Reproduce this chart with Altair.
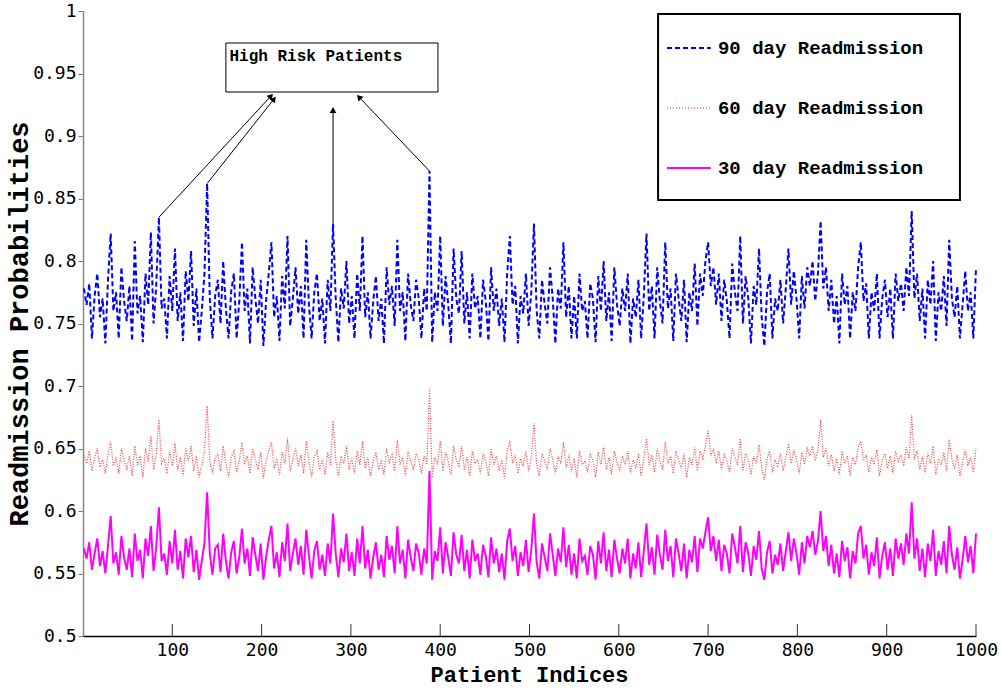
import altair as alt
import pandas as pd

# ---------------- data ----------------
idx = list(range(1, 1001, 3))  # patient indices sampled (334 per series)

# probabilities in thousandths (0.778 -> 778)
d90_milli = [
778,765,782,738,772,790,755,770,734,785,
822,760,775,738,795,768,752,780,736,816,
758,772,735,790,765,823,750,780,835,762,
770,738,788,760,810,752,775,736,792,768,
808,748,778,735,760,790,862,770,738,772,
785,750,800,762,738,776,790,738,768,815,
760,778,734,795,770,750,785,732,768,790,
815,755,772,736,788,762,820,748,770,795,
758,780,738,817,765,738,775,790,752,770,
734,785,760,830,770,735,778,762,800,750,
772,738,790,760,820,755,775,738,768,788,
752,770,734,795,765,780,748,817,760,775,
736,790,765,752,785,770,738,778,760,872,
735,775,760,820,748,788,765,734,810,770,
758,808,750,775,738,790,762,772,738,785,
768,736,795,760,778,748,770,735,790,820,
765,780,734,772,758,790,748,775,830,760,
738,785,765,750,795,770,734,778,762,815,
755,780,738,772,738,790,760,768,738,782,
770,735,788,760,800,752,775,736,795,765,
748,778,760,790,734,770,755,785,738,772,
822,760,780,738,795,768,750,815,762,778,
736,790,770,752,785,735,775,760,798,748,
790,772,800,815,780,795,765,790,752,785,
768,738,798,775,760,820,750,788,770,734,
780,765,810,755,732,775,790,738,770,760,
785,750,778,810,765,792,770,738,788,762,
795,780,800,768,790,832,778,795,760,785,
750,772,734,790,765,780,738,775,760,795,
815,768,782,738,775,760,790,738,770,785,
755,778,738,790,768,782,760,795,772,840,
770,790,752,778,738,785,765,800,736,775,
760,788,748,817,770,755,780,738,765,792,
760,775,738,795,
]

d60_milli = [
645,638,648,632,642,650,635,641,630,646,
655,636,643,630,650,640,634,644,628,652,
637,644,627,650,640,660,633,645,673,638,
642,630,648,636,654,633,643,628,650,640,
652,632,644,627,637,648,684,641,630,643,
646,632,652,638,627,643,648,631,640,655,
637,644,630,650,641,633,647,626,640,648,
655,634,642,629,647,638,658,632,641,650,
636,645,630,656,640,627,643,648,633,641,
629,647,637,672,641,628,644,638,652,633,
642,630,648,637,656,634,643,628,640,647,
633,641,629,650,639,645,632,657,637,643,
628,648,640,633,646,641,630,644,637,698,
627,643,637,656,632,647,640,629,652,641,
636,652,633,643,628,648,638,641,630,646,
640,628,650,637,644,632,641,626,648,656,
638,645,630,642,636,648,632,643,670,637,
628,646,640,633,650,641,630,644,638,655,
635,645,631,642,627,648,637,640,631,645,
641,627,647,637,652,633,643,629,648,639,
632,644,637,648,630,641,634,646,628,642,
658,637,645,631,650,640,633,655,638,644,
630,648,641,634,646,627,643,637,651,632,
648,642,652,665,644,650,638,648,633,645,
640,631,650,643,637,658,632,646,641,629,
644,638,653,634,625,642,648,631,641,636,
646,632,643,654,638,649,641,630,647,637,
650,644,652,640,648,673,643,650,636,645,
632,642,629,648,638,644,628,643,637,651,
656,640,645,631,643,637,649,628,641,646,
634,644,630,648,640,645,636,651,642,677,
641,648,633,644,630,646,638,652,629,642,
637,647,632,658,641,634,645,628,639,649,
637,643,631,650,
]

d30_milli = [
570,562,575,553,566,578,556,568,550,572,
596,558,567,549,580,563,553,570,547,582,
560,569,546,578,564,588,552,571,603,560,
566,549,576,558,585,553,568,546,578,563,
580,551,569,545,560,574,615,566,549,570,
573,551,582,560,546,567,576,550,563,586,
558,570,548,579,565,552,574,545,563,577,
588,554,567,547,575,560,590,552,566,578,
557,572,549,585,564,546,568,576,553,565,
548,574,558,598,566,547,570,559,582,552,
567,548,578,558,588,554,569,546,563,575,
553,565,547,580,561,572,550,588,558,569,
546,577,563,552,574,566,549,570,558,632,
545,568,560,587,550,575,563,548,583,565,
558,581,552,569,546,577,560,566,549,573,
564,547,579,558,570,551,566,545,576,586,
560,572,548,567,556,577,551,569,598,559,
546,574,563,552,582,565,548,570,559,587,
555,573,549,566,546,578,560,564,549,572,
565,545,576,558,583,552,569,547,577,562,
550,570,558,578,546,566,554,575,547,568,
590,557,571,549,581,565,553,585,560,572,
547,578,566,552,574,546,569,559,580,551,
578,570,583,595,568,580,560,577,552,573,
566,550,582,571,558,588,551,575,566,548,
572,561,584,554,545,567,576,550,565,557,
574,552,568,583,560,578,566,549,575,558,
580,571,584,565,576,600,568,580,556,573,
550,566,547,576,560,571,546,568,558,582,
588,562,573,549,567,556,579,546,564,575,
553,570,548,578,562,574,557,582,566,607,
562,578,552,570,547,574,560,585,548,568,
557,576,550,588,565,553,571,546,561,580,
559,572,550,582,
]

series_names = ["90 day Readmission", "60 day Readmission", "30 day Readmission"]
x_ticks = [100, 200, 300, 400, 500, 600, 700, 800, 900, 1000]
y_ticks = [0.5, 0.55, 0.6, 0.65, 0.7, 0.75, 0.8, 0.85, 0.9, 0.95, 1.0]

# annotation: arrows from high-risk peaks to the box (data coordinates)
arrow_x = [85, 139, 280, 388]
arrow_y = [0.835, 0.862, 0.830, 0.872]
arrow_x2 = [210.5, 213.9, 280, 309]
arrow_y2 = [0.932, 0.9296, 0.9208, 0.9312]
arrow_ang = [43, 37, 0, 316]

# ---------------- styling ----------------
W, H = 893, 625
MONO = "Liberation Mono"
TICKF = "DejaVu Sans Mono"
xs = alt.Scale(domain=[0, 1000], nice=False, zero=False)
ys = alt.Scale(domain=[0.5, 1.0], nice=False, zero=False)


def line_df(vals):
    return pd.DataFrame({"idx": idx, "value": [v / 1000 for v in vals]})


base_x = alt.X("idx:Q", scale=xs,
               axis=alt.Axis(values=x_ticks, format="d", ticks=False, grid=False, title=None,
                             labelFont=TICKF, labelFontSize=18, labelColor="black",
                             labelPadding=5, domainColor="black", domainWidth=1.5,
                             labelFlush=False))
base_y = alt.Y("value:Q", scale=ys,
               axis=alt.Axis(values=y_ticks, format=".2~f", grid=False, title=None,
                             labelFont=TICKF, labelFontSize=18, labelColor="black",
                             labelPadding=2, tickSize=5, tickColor="#777",
                             domainColor="#888", domainWidth=1.5, labelFlush=False))

l90 = alt.Chart(line_df(d90_milli)).mark_line(color="#0000ff", strokeWidth=2,
                                               strokeDash=[5, 3]).encode(x=base_x, y=base_y)
l60 = alt.Chart(line_df(d60_milli)).mark_line(color="#ff2020", strokeWidth=1.2, opacity=0.85,
                                               strokeDash=[1, 1.5]).encode(x="idx:Q", y="value:Q")
l30 = alt.Chart(line_df(d30_milli)).mark_line(color="#ff00ff", strokeWidth=2).encode(
    x="idx:Q", y="value:Q")

# inward x ticks
xt = alt.Chart(pd.DataFrame({"t": x_ticks})).mark_rule(color="#333", strokeWidth=1).encode(
    x="t:Q", y=alt.value(H), y2=alt.value(H - 12))

# arrows
adf = pd.DataFrame({"x": arrow_x, "y": arrow_y, "x2": arrow_x2, "y2": arrow_y2,
                    "ang": arrow_ang})
arrows = alt.Chart(adf).mark_rule(color="black", strokeWidth=1).encode(
    x="x:Q", y="y:Q", x2="x2:Q", y2="y2:Q")
heads = alt.Chart(adf).mark_point(shape="triangle-up", filled=True, color="black",
                                  size=45, opacity=1).encode(
    x="x2:Q", y="y2:Q", angle=alt.Angle("ang:Q", scale=None))

# annotation box
box = alt.Chart(pd.DataFrame({"a": [160], "b": [397.5], "c": [0.9352], "d": [0.9744]})).mark_rect(
    fill="white", stroke="black", strokeWidth=1).encode(x="a:Q", x2="b:Q", y="c:Q", y2="d:Q")
box_txt = alt.Chart(pd.DataFrame({"x": [164], "y": [0.964], "t": ["High Risk Patients"]})).mark_text(
    font=MONO, fontSize=16, fontWeight="bold", align="left", baseline="middle",
    color="black").encode(x="x:Q", y="y:Q", text="t:N")

# legend
leg_box = alt.Chart(pd.DataFrame({"a": [644], "b": [982], "c": [0.8488], "d": [0.9976]})).mark_rect(
    fill="white", stroke="black", strokeWidth=2).encode(x="a:Q", x2="b:Q", y="c:Q", y2="d:Q")
leg_y = [0.9704, 0.9224, 0.8744]
leg90 = alt.Chart(pd.DataFrame({"a": [654], "b": [703], "y": [leg_y[0]]})).mark_rule(
    color="#0000ff", strokeWidth=2, strokeDash=[5, 3]).encode(x="a:Q", x2="b:Q", y="y:Q")
leg60 = alt.Chart(pd.DataFrame({"a": [654], "b": [703], "y": [leg_y[1]]})).mark_rule(
    color="#ff6060", strokeWidth=1.5, strokeDash=[1, 2]).encode(x="a:Q", x2="b:Q", y="y:Q")
leg30 = alt.Chart(pd.DataFrame({"a": [654], "b": [703], "y": [leg_y[2]]})).mark_rule(
    color="#ff00ff", strokeWidth=2).encode(x="a:Q", x2="b:Q", y="y:Q")
leg_txt = alt.Chart(pd.DataFrame({"x": [711] * 3, "y": leg_y, "t": series_names})).mark_text(
    font=MONO, fontSize=19, fontWeight="bold", align="left", baseline="middle",
    color="black").encode(x="x:Q", y="y:Q", text="t:N")

# axis titles as text
ytitle = alt.Chart(pd.DataFrame({"t": ["Readmission Probabilities"]})).mark_text(
    font=MONO, fontSize=27, fontWeight="bold", angle=270, align="center",
    baseline="middle", color="black").encode(
    x=alt.value(20 - 83), y=alt.value(324 - 11), text="t:N")
xtitle = alt.Chart(pd.DataFrame({"t": ["Patient Indices"]})).mark_text(
    font=MONO, fontSize=22, fontWeight="bold", align="center", baseline="middle",
    color="black").encode(x=alt.value(W / 2), y=alt.value(675 - 11), text="t:N")

chart = alt.layer(
    l90, l60, l30, xt, arrows, heads, box, box_txt, leg_box, leg90, leg60, leg30,
    leg_txt, ytitle, xtitle
).properties(
    width=W, height=H,
    autosize=alt.AutoSizeParams(type="none"),
    padding={"left": 83, "top": 11, "right": 26, "bottom": 52},
    background="white",
).configure_view(stroke=None)

chart.save("out.html", embed_options={"renderer": "svg", "actions": False})
